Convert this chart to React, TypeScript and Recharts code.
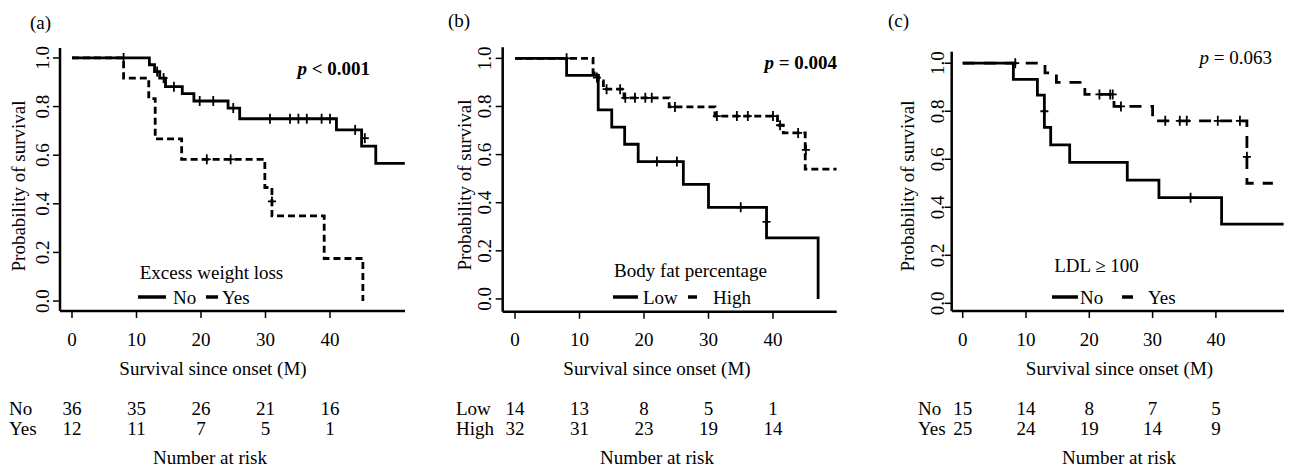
import React from 'react';
import { ComposedChart, Line, Scatter, XAxis, YAxis } from 'recharts';

const FONT = '"Liberation Serif", "Times New Roman", serif';
const FS = 19;

const xTicks = [0, 10, 20, 30, 40];
const yTicks = [0, 0.2, 0.4, 0.6, 0.8, 1.0];

// (a) Excess weight loss
const aNoTime = [0, 12.0, 12.8, 13.6, 14.5, 17.1, 18.9, 24.2, 26.0, 41.0, 44.9, 47.1, 51.6];
const aNoSurv = [1, 0.972, 0.944, 0.917, 0.882, 0.853, 0.823, 0.794, 0.75, 0.704, 0.637, 0.566, 0.566];
const aYesTime = [0, 8.0, 11.9, 12.9, 17.0, 29.9, 31.0, 39.1, 45.1];
const aYesSurv = [1, 0.917, 0.833, 0.667, 0.583, 0.467, 0.35, 0.175, 0.0];
const aNoCensT = [8, 13.2, 14.2, 15.8, 19.8, 21.9, 25.0, 30.7, 33.8, 35.1, 36.4, 38.7, 40.0, 43.9, 45.4];
const aNoCensS = [1, 0.944, 0.917, 0.882, 0.823, 0.823, 0.794, 0.75, 0.75, 0.75, 0.75, 0.75, 0.75, 0.704, 0.67];
const aYesCensT = [20.9, 24.6, 31.0];
const aYesCensS = [0.583, 0.583, 0.41];
const aRiskNo = [36, 35, 26, 21, 16];
const aRiskYes = [12, 11, 7, 5, 1];

// (b) Body fat percentage
const bLowTime = [0, 8.0, 12.9, 15.0, 17.0, 19.1, 26.1, 30.0, 39.0, 47.0];
const bLowSurv = [1, 0.929, 0.786, 0.714, 0.643, 0.571, 0.476, 0.381, 0.254, 0.0];
const bHighTime = [0, 12.1, 12.9, 13.7, 16.9, 23.9, 31.0, 40.7, 41.6, 45.0, 49.9];
const bHighSurv = [1, 0.94, 0.906, 0.872, 0.836, 0.798, 0.76, 0.722, 0.69, 0.54, 0.54];
const bLowCensT = [22.0, 25.1, 35.0, 39.0];
const bLowCensS = [0.571, 0.571, 0.381, 0.32];
const bHighCensT = [8.0, 12.7, 14.2, 16.3, 17.1, 18.6, 20.2, 21.2, 24.8, 31.3, 34.4, 36.1, 40.0, 41.1, 43.9, 45.1];
const bHighCensS = [1, 0.92, 0.872, 0.872, 0.836, 0.836, 0.836, 0.836, 0.798, 0.76, 0.76, 0.76, 0.76, 0.722, 0.69, 0.62];
const bRiskLow = [14, 13, 8, 5, 1];
const bRiskHigh = [32, 31, 23, 19, 14];

// (c) LDL >= 100
const cNoTime = [0, 8.0, 11.8, 12.9, 13.9, 16.9, 26.0, 31.0, 40.9, 50.7];
const cNoSurv = [1, 0.933, 0.867, 0.733, 0.66, 0.587, 0.513, 0.44, 0.33, 0.33];
const cYesTime = [0, 13.0, 14.8, 19.3, 23.9, 30.0, 44.9, 49.0];
const cYesSurv = [1, 0.96, 0.92, 0.87, 0.82, 0.76, 0.5, 0.5];
const cNoCensT = [12.9, 36.0];
const cNoCensS = [0.8, 0.44];
const cYesCensT = [8.3, 21.6, 23.3, 23.7, 25.0, 32.0, 34.3, 35.4, 40.3, 43.8, 44.9];
const cYesCensS = [1, 0.87, 0.87, 0.87, 0.82, 0.76, 0.76, 0.76, 0.76, 0.76, 0.61];
const cRiskNo = [15, 14, 8, 7, 5];
const cRiskYes = [25, 24, 19, 14, 9];

const zip = (t: number[], s: number[]) => t.map((v, i) => ({ t: v, s: s[i] }));

const Plus = (props: any) => {
  const { cx, cy } = props;
  if (cx == null || cy == null) return null;
  return (
    <g stroke="#000" strokeWidth={1.8}>
      <line x1={cx - 4} y1={cy} x2={cx + 4} y2={cy} />
      <line x1={cx} y1={cy - 5} x2={cx} y2={cy + 5} />
    </g>
  );
};

interface PanelProps {
  left: number;
  width: number;
  axisX: number;
  rightEnd: number;
  top: number;
  xAxisY: number;
  xDomain: [number, number];
  yDomain: [number, number];
  yTickGap: number;
  solid: { t: number; s: number }[];
  dashed: { t: number; s: number }[];
  dash: string;
  censSolid: { t: number; s: number }[];
  censDashed: { t: number; s: number }[];
  risk1: number[];
  risk2: number[];
}

function Panel(p: PanelProps) {
  const xAxisH = 20;
  const XTick = (props: any) => {
    const { x, payload, index } = props;
    return (
      <g fontFamily={FONT} fontSize={FS} fill="#000">
        <text x={x} y={339} textAnchor="middle" dominantBaseline="central">{payload.value}</text>
        <text x={x} y={408} textAnchor="middle" dominantBaseline="central">{p.risk1[index]}</text>
        <text x={x} y={428} textAnchor="middle" dominantBaseline="central">{p.risk2[index]}</text>
      </g>
    );
  };
  const YTick = (props: any) => {
    const { x, y, payload } = props;
    return (
      <text
        x={x}
        y={y}
        transform={`rotate(-90 ${x} ${y})`}
        textAnchor="middle"
        dominantBaseline="central"
        fontFamily={FONT}
        fontSize={FS}
        fill="#000"
      >
        {payload.value.toFixed(1)}
      </text>
    );
  };
  return (
    <div style={{ position: 'absolute', left: p.left, top: 0 }}>
      <ComposedChart
        width={p.width}
        height={467}
        margin={{ top: p.top, right: p.left + p.width - p.rightEnd, bottom: 467 - p.xAxisY - xAxisH, left: 0 }}
      >
        <XAxis
          type="number"
          dataKey="t"
          domain={p.xDomain}
          ticks={xTicks}
          allowDataOverflow
          height={xAxisH}
          tickSize={7}
          axisLine={{ stroke: '#000', strokeWidth: 2.5 }}
          tickLine={{ stroke: '#000', strokeWidth: 1.5 }}
          tick={<XTick />}
          interval={0}
        />
        <YAxis
          type="number"
          dataKey="s"
          domain={p.yDomain}
          ticks={yTicks}
          allowDataOverflow
          width={p.axisX - p.left}
          tickSize={7}
          tickMargin={p.yTickGap}
          axisLine={{ stroke: '#000', strokeWidth: 2.5 }}
          tickLine={{ stroke: '#000', strokeWidth: 1.5 }}
          tick={<YTick />}
          interval={0}
        />
        <Line data={p.dashed} type="stepAfter" dataKey="s" stroke="#000" strokeWidth={2.8}
          strokeDasharray={p.dash} dot={false} activeDot={false} isAnimationActive={false} />
        <Line data={p.solid} type="stepAfter" dataKey="s" stroke="#000" strokeWidth={2.8}
          dot={false} activeDot={false} isAnimationActive={false} />
        <Scatter data={p.censSolid} shape={<Plus />} isAnimationActive={false} />
        <Scatter data={p.censDashed} shape={<Plus />} isAnimationActive={false} />
      </ComposedChart>
    </div>
  );
}

const T = (props: any) => (
  <text fontFamily={FONT} fontSize={FS} fill="#000" dominantBaseline="central" {...props} />
);

export default function App() {
  return (
    <div style={{ position: 'absolute', left: 0, top: 0, width: 1292, height: 467, background: '#fff' }}>
      <Panel
        left={0} width={430} axisX={60} rightEnd={405} top={48} xAxisY={311}
        xDomain={[-1.86, 51.63]} yDomain={[-0.041, 1.041]} yTickGap={10}
        solid={zip(aNoTime, aNoSurv)} dashed={zip(aYesTime, aYesSurv)} dash="7 4"
        censSolid={zip(aNoCensT, aNoCensS)} censDashed={zip(aYesCensT, aYesCensS)}
        risk1={aRiskNo} risk2={aRiskYes}
      />
      <Panel
        left={430} width={430} axisX={502.7} rightEnd={836.7} top={47.3} xAxisY={311.7}
        xDomain={[-1.91, 49.88]} yDomain={[-0.053, 1.046]} yTickGap={10.7}
        solid={zip(bLowTime, bLowSurv)} dashed={zip(bHighTime, bHighSurv)} dash="7 4"
        censSolid={zip(bLowCensT, bLowCensS)} censDashed={zip(bHighCensT, bHighCensS)}
        risk1={bRiskLow} risk2={bRiskHigh}
      />
      <Panel
        left={860} width={432} axisX={951.7} rightEnd={1284} top={51.7} xAxisY={311}
        xDomain={[-1.74, 50.76]} yDomain={[-0.032, 1.048]} yTickGap={7}
        solid={zip(cNoTime, cNoSurv)} dashed={zip(cYesTime, cYesSurv)} dash="12 9"
        censSolid={zip(cNoCensT, cNoCensS)} censDashed={zip(cYesCensT, cYesCensS)}
        risk1={cRiskNo} risk2={cRiskYes}
      />
      <svg width={1292} height={467} style={{ position: 'absolute', left: 0, top: 0, pointerEvents: 'none' }}>
        {/* panel labels */}
        <T x={30} y={22}>(a)</T>
        <T x={448} y={20}>(b)</T>
        <T x={888} y={20}>(c)</T>

        {/* y titles */}
        <T x={18.5} y={186} textAnchor="middle" transform="rotate(-90 18.5 186)">Probability of survival</T>
        <T x={464.5} y={185} textAnchor="middle" transform="rotate(-90 464.5 185)">Probability of survival</T>
        <T x={907.5} y={186} textAnchor="middle" transform="rotate(-90 907.5 186)">Probability of survival</T>

        {/* x titles */}
        <T x={213} y={368} textAnchor="middle">Survival since onset (M)</T>
        <T x={657} y={368} textAnchor="middle">Survival since onset (M)</T>
        <T x={1119.5} y={368} textAnchor="middle">Survival since onset (M)</T>

        {/* risk table */}
        <T x={9} y={408}>No</T>
        <T x={9} y={428}>Yes</T>
        <T x={210} y={457} textAnchor="middle">Number at risk</T>
        <T x={456} y={408}>Low</T>
        <T x={456} y={428}>High</T>
        <T x={657} y={457} textAnchor="middle">Number at risk</T>
        <T x={918} y={408}>No</T>
        <T x={918} y={428}>Yes</T>
        <T x={1119} y={457} textAnchor="middle">Number at risk</T>

        {/* p values */}
        <T x={370} y={68} textAnchor="end" fontWeight="bold">
          <tspan fontStyle="italic">p</tspan> &lt; 0.001
        </T>
        <T x={837} y={62} textAnchor="end" fontWeight="bold">
          <tspan fontStyle="italic">p</tspan> = 0.004
        </T>
        <T x={1272} y={57} textAnchor="end">
          <tspan fontStyle="italic">p</tspan> = 0.063
        </T>

        {/* legends */}
        <T x={211.5} y={272} textAnchor="middle">Excess weight loss</T>
        <line x1={138} y1={297} x2={166} y2={297} stroke="#000" strokeWidth={3.5} />
        <T x={173} y={297}>No</T>
        <line x1={206} y1={297} x2={218} y2={297} stroke="#000" strokeWidth={3.5} />
        <T x={222} y={297}>Yes</T>

        <T x={690.5} y={270} textAnchor="middle">Body fat percentage</T>
        <line x1={613} y1={297} x2={638} y2={297} stroke="#000" strokeWidth={3.5} />
        <T x={643} y={297}>Low</T>
        <line x1={688} y1={297} x2={697} y2={297} stroke="#000" strokeWidth={3.5} />
        <T x={713} y={297}>High</T>

        <T x={1096.5} y={265} textAnchor="middle">LDL ≥ 100</T>
        <line x1={1052} y1={297} x2={1078} y2={297} stroke="#000" strokeWidth={3.5} />
        <T x={1080} y={297}>No</T>
        <line x1={1122} y1={297} x2={1133} y2={297} stroke="#000" strokeWidth={3.5} />
        <T x={1148} y={297}>Yes</T>
      </svg>
    </div>
  );
}
